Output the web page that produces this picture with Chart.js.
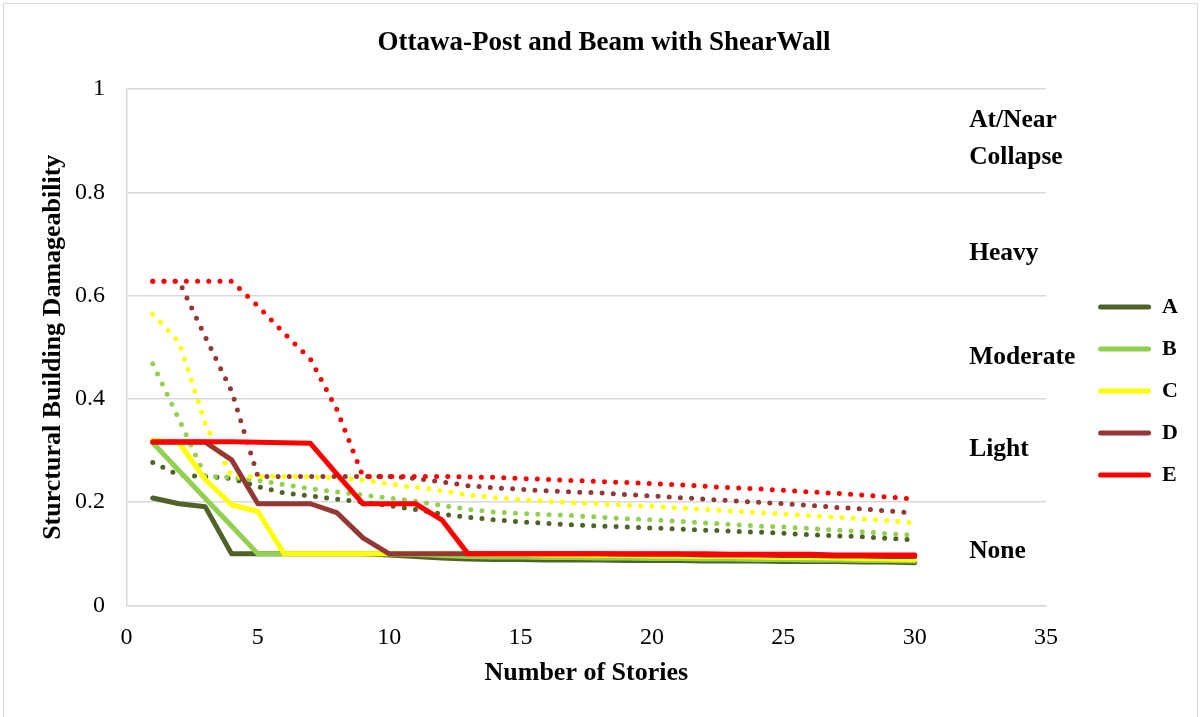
<!DOCTYPE html>
<html>
<head>
<meta charset="utf-8">
<script src="https://cdn.jsdelivr.net/npm/chart.js@4.4.1/dist/chart.umd.min.js"></script>
<style>
  html, body { margin: 0; padding: 0; background: #fff; }
  #wrap { position: relative; width: 1202px; height: 717px; }
  #frame { position: absolute; left: 3px; top: 3px; width: 1193px; height: 720px; border: 1px solid #d9d9d9; pointer-events: none; }
</style>
</head>
<body>
<div id="wrap">
  <canvas id="myChart"></canvas>
  <div id="frame"></div>
</div>
<script>
const stories = [1, 2, 3, 4, 5, 6, 7, 8, 9, 10, 11, 12, 13, 14, 15, 16, 17, 18, 19, 20, 21, 22, 23, 24, 25, 26, 27, 28, 29, 30];

// solid lines (shown in legend)
const solidA = [0.208, 0.197, 0.191, 0.1, 0.1, 0.1, 0.1, 0.1, 0.1, 0.098, 0.095, 0.092, 0.09, 0.089, 0.089, 0.088, 0.088, 0.088, 0.087, 0.087, 0.087, 0.086, 0.086, 0.086, 0.085, 0.085, 0.085, 0.084, 0.084, 0.083];
const solidB = [0.315, 0.261, 0.207, 0.154, 0.1, 0.1, 0.1, 0.1, 0.1, 0.1, 0.099, 0.097, 0.095, 0.094, 0.094, 0.093, 0.093, 0.092, 0.092, 0.091, 0.091, 0.09, 0.09, 0.089, 0.089, 0.088, 0.088, 0.087, 0.087, 0.086];
const solidC = [0.32, 0.315, 0.244, 0.195, 0.182, 0.1, 0.1, 0.1, 0.1, 0.1, 0.1, 0.1, 0.1, 0.099, 0.099, 0.098, 0.098, 0.097, 0.097, 0.096, 0.096, 0.095, 0.095, 0.094, 0.093, 0.093, 0.092, 0.091, 0.09, 0.089];
const solidD = [0.316, 0.316, 0.316, 0.282, 0.197, 0.197, 0.197, 0.18, 0.131, 0.1, 0.1, 0.1, 0.1, 0.1, 0.1, 0.1, 0.1, 0.1, 0.099, 0.099, 0.099, 0.098, 0.098, 0.098, 0.097, 0.097, 0.096, 0.096, 0.095, 0.095];
const solidE = [0.317, 0.317, 0.317, 0.317, 0.316, 0.315, 0.314, 0.255, 0.197, 0.197, 0.197, 0.166, 0.1, 0.1, 0.1, 0.1, 0.1, 0.1, 0.1, 0.1, 0.1, 0.1, 0.099, 0.099, 0.099, 0.099, 0.098, 0.098, 0.098, 0.098];

// dotted lines (no legend entry)
const dotA = [0.277, 0.252, 0.25, 0.246, 0.23, 0.218, 0.212, 0.206, 0.2, 0.193, 0.186, 0.177, 0.171, 0.166, 0.162, 0.159, 0.156, 0.154, 0.152, 0.15, 0.148, 0.146, 0.144, 0.142, 0.14, 0.137, 0.135, 0.133, 0.13, 0.127];
const dotB = [0.468, 0.36, 0.25, 0.248, 0.242, 0.234, 0.226, 0.22, 0.214, 0.208, 0.202, 0.194, 0.186, 0.181, 0.178, 0.176, 0.174, 0.171, 0.168, 0.166, 0.163, 0.16, 0.157, 0.154, 0.152, 0.149, 0.146, 0.143, 0.139, 0.136];
const dotC = [0.564, 0.51, 0.352, 0.25, 0.25, 0.25, 0.249, 0.247, 0.243, 0.235, 0.229, 0.222, 0.214, 0.209, 0.205, 0.202, 0.199, 0.197, 0.194, 0.192, 0.189, 0.186, 0.183, 0.18, 0.177, 0.174, 0.171, 0.168, 0.164, 0.16];
const dotD = [0.628, 0.628, 0.52, 0.415, 0.25, 0.25, 0.25, 0.25, 0.25, 0.25, 0.246, 0.239, 0.232, 0.228, 0.225, 0.222, 0.22, 0.218, 0.215, 0.212, 0.209, 0.206, 0.203, 0.2, 0.197, 0.194, 0.19, 0.187, 0.183, 0.179];
const dotE = [0.628, 0.628, 0.628, 0.628, 0.58, 0.527, 0.477, 0.38, 0.25, 0.25, 0.25, 0.25, 0.249, 0.248, 0.246, 0.244, 0.242, 0.24, 0.238, 0.236, 0.234, 0.231, 0.228, 0.226, 0.223, 0.22, 0.217, 0.214, 0.21, 0.206];

const seriesNames = ["A", "B", "C", "D", "E"];
const yTicks = [0, 0.2, 0.4, 0.6, 0.8, 1];
const xTicks = [0, 5, 10, 15, 20, 25, 30, 35];

// damage state labels on the right side of the plot
const bandLabels = [["None"], ["Light"], ["Moderate"], ["Heavy"], ["At/Near", "Collapse"]];
const bandLevels = [0.105, 0.303, 0.481, 0.682, 0.904];
const bandX = 32.07;

const colors = ["#4F6228", "#92D050", "#FFFF00", "#953735", "#FF0000"];
const serif = "'Liberation Serif', 'Times New Roman', serif";

const solids = [solidA, solidB, solidC, solidD, solidE];
const dots = [dotA, dotB, dotC, dotD, dotE];
const toPoints = (arr) => arr.map((v, i) => ({ x: stories[i], y: v }));

const datasets = [];
solids.forEach((arr, i) => {
  datasets.push({
    label: seriesNames[i],
    data: toPoints(arr),
    borderColor: colors[i],
    backgroundColor: colors[i],
    borderWidth: 5,
    borderJoinStyle: "round",
    borderCapStyle: "round",
    pointRadius: 0,
    order: 10 - i,
  });
});
dots.forEach((arr, i) => {
  datasets.push({
    label: seriesNames[i] + " (dotted)",
    data: toPoints(arr),
    borderColor: colors[i],
    backgroundColor: colors[i],
    borderWidth: 5,
    borderDash: [0, 11.2],
    borderCapStyle: "round",
    pointRadius: 0,
    order: 20 - i,
  });
});

const bandText = {
  id: "bandText",
  afterDatasetsDraw(chart) {
    const { ctx, scales } = chart;
    ctx.save();
    ctx.font = "bold 25.5px " + serif;
    ctx.fillStyle = "#000";
    ctx.textAlign = "left";
    ctx.textBaseline = "middle";
    const x = scales.x.getPixelForValue(bandX);
    bandLabels.forEach((lines, i) => {
      const yc = scales.y.getPixelForValue(bandLevels[i]);
      lines.forEach((t, j) => {
        ctx.fillText(t, x, yc + (j - (lines.length - 1) / 2) * 37);
      });
    });
    ctx.restore();
  },
};

const ctx = document.getElementById("myChart");

new Chart(ctx, {
  type: "line",
  data: { datasets },
  plugins: [bandText],
  options: {
    responsive: true,
    maintainAspectRatio: false,
    animation: false,
    layout: { padding: { left: 20, right: 14, top: 0, bottom: 25.5 } },
    plugins: {
      title: {
        display: true,
        text: "Ottawa-Post and Beam with ShearWall",
        color: "#000",
        font: { family: serif, size: 27, weight: "bold" },
        padding: { top: 27, bottom: 29.6 },
      },
      legend: {
        position: "right",
        title: { display: true, text: "", font: { size: 10 }, padding: { top: 78.5, bottom: 0 } },
        labels: {
          color: "#000",
          font: { family: serif, size: 22, weight: "bold" },
          boxWidth: 53,
          boxHeight: 5,
          padding: 20,
          generateLabels: (chart) =>
            Chart.defaults.plugins.legend.labels
              .generateLabels(chart)
              .filter((l) => l.datasetIndex < 5)
              .sort((a, b) => a.datasetIndex - b.datasetIndex)
              .map((l) => ({ ...l, lineWidth: 0, fillStyle: l.strokeStyle, borderRadius: 2.5 })),
        },
      },
      tooltip: { enabled: false },
    },
    scales: {
      x: {
        type: "linear",
        min: 0,
        max: 35,
        afterBuildTicks: (s) => { s.ticks = xTicks.map((v) => ({ value: v })); },
        afterFit: (s) => { s.height = 86; },
        grid: { display: false },
        border: { display: true, color: "#d9d9d9", width: 1.5 },
        ticks: { color: "#000", font: { family: serif, size: 24 }, padding: 9.5, callback: (v) => String(v) },
        title: {
          display: true,
          text: "Number of Stories",
          color: "#000",
          font: { family: serif, size: 26, weight: "bold" },
          padding: { top: 4, bottom: 3 },
        },
      },
      y: {
        min: 0,
        max: 1,
        afterBuildTicks: (s) => { s.ticks = yTicks.map((v) => ({ value: v })); },
        afterFit: (s) => { s.width = 106.5; },
        grid: { color: "#d9d9d9", lineWidth: 1.5, drawTicks: false },
        border: { display: true, color: "#d9d9d9", width: 1.5 },
        ticks: { color: "#000", font: { family: serif, size: 24 }, padding: 21.5, callback: (v) => String(v) },
        title: {
          display: true,
          text: "Sturctural Building Damageability",
          color: "#000",
          font: { family: serif, size: 26, weight: "bold" },
          padding: { top: 18, bottom: 4 },
        },
      },
      y2: {
        position: "right",
        min: 0,
        max: 1,
        grid: { display: false },
        border: { display: false },
        ticks: { display: false },
        afterFit: (s) => { s.width = 32; },
      },
    },
  },
});
</script>
</body>
</html>
